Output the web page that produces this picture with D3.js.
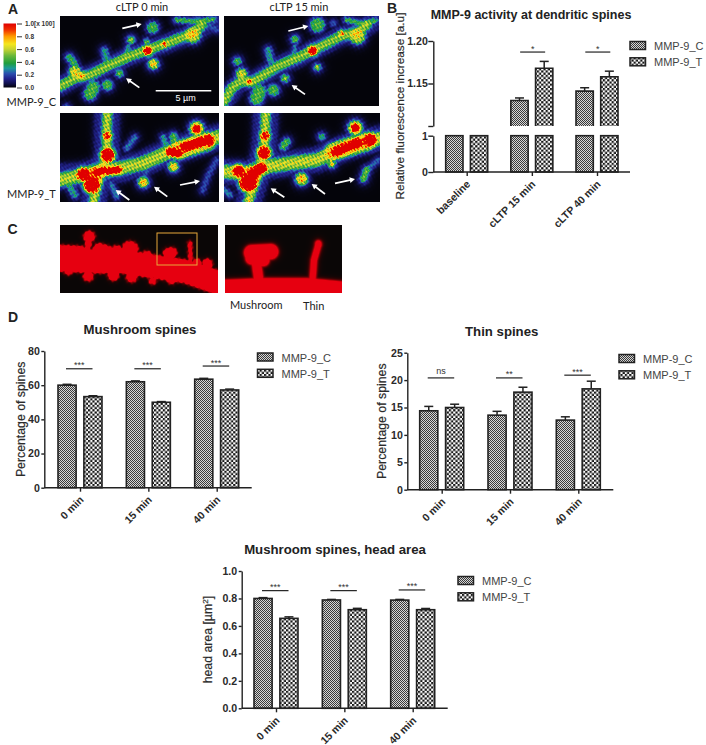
<!DOCTYPE html>
<html lang="en">
<head>
<meta charset="UTF-8">
<title>MMP-9 activity and dendritic spines</title>
<script src="https://d3js.org/d3.v7.min.js"></script>
<style>
  html, body { margin: 0; padding: 0; background: #fff; }
  svg { display: block; }
  text { font-family: "Liberation Sans", Arial, sans-serif; fill: #222; }
  .photo-label { font-family: Lato, "Open Sans", sans-serif; }
  .axis path, .axis line, .axis-line { stroke: #222; stroke-width: 1.4; fill: none; }
  .axis text { font-size: 10.6px; font-weight: 600; fill: #2a2a2a; }
  .title { font-weight: bold; text-anchor: middle; }
  .legend-text { font-size: 11px; fill: #444; }
</style>
</head>
<body>
<div id="chart"></div>
<script>
const seriesNames = ["MMP-9_C", "MMP-9_T"];
const timeLabels = ["0 min", "15 min", "40 min"];
const activityLabels = ["baseline", "cLTP 15 min", "cLTP 40 min"];

// bar height, then top of the error whisker
const activityC = [1, 1.13, 1.141];
const activityCTop = [1, 1.133, 1.145];
const activityT = [1, 1.168, 1.158];
const activityTTop = [1, 1.176, 1.1645];
const activitySig = [null, "*", "*"];
const activitySigY = [null, 1.187, 1.187];

const mushroomC = [60, 62, 63.5];
const mushroomCTop = [60.5, 62.5, 64];
const mushroomT = [53.3, 50, 57.2];
const mushroomTTop = [53.8, 50.4, 57.7];
const mushroomSig = ["***", "***", "***"];
const mushroomSigY = [69.6, 69.6, 71.2];

const thinC = [14.4, 13.6, 12.7];
const thinCTop = [15.2, 14.3, 13.3];
const thinT = [15, 17.8, 18.4];
const thinTTop = [15.6, 18.7, 19.8];
const thinSig = ["ns", "**", "***"];
const thinSigY = [20.4, 20.4, 20.9];

const headC = [0.8, 0.789, 0.788];
const headCTop = [0.806, 0.793, 0.793];
const headT = [0.655, 0.718, 0.718];
const headTTop = [0.666, 0.728, 0.727];
const headSig = ["***", "***", "***"];
const headSigY = [0.857, 0.857, 0.862];

const heatStops = [0, 0.06, 0.14, 0.22, 0.3, 0.38, 0.5, 0.6, 0.68, 0.8, 0.9, 1];
const heatColors = ["#04040a", "#10104a", "#22228c", "#2a50b0", "#1c9a9a", "#1e9e3c",
  "#6cb83a", "#c8d430", "#f5e61e", "#ff9a00", "#f03000", "#e00000"];
const colorbarTicks = [0, 0.2, 0.4, 0.6, 0.8, 1];

// image shapes: [radius, level, x1, y1, x2, y2, ...]; points are 3x reference coordinates
const photoC0 = [
  [9, 0.13, 181,258, 225,235, 270,225, 330,195, 385,170, 440,150, 500,130, 580,100, 657,55],
  [4.2, 0.53, 181,258, 225,235, 270,225, 330,195, 385,170, 440,150, 500,130, 580,100, 605,75],
  [3.4, 1.3, 443,152], [2, 0.9, 493,132], [7, 0.64, 578,105], [5, 0.68, 225,215], [3, 0.7, 245,228],
  [2, 0.42, 530,60, 590,65, 640,58], [2.5, 0.2, 590,55, 650,90],
  [5, 0.44, 458,83], [2.8, 0.55, 393,120], [1.8, 0.5, 440,125], [4, 0.72, 460,192],
  [3, 0.4, 208,172, 222,190], [3, 0.32, 313,152, 320,180], [5.5, 0.46, 270,282, 280,262],
  [4.5, 0.46, 322,255], [3, 0.46, 358,220], [1.8, 0.32, 385,140, 375,170], [1.8, 0.38, 200,322]
];
const photoC15 = [
  [9, 0.13, 672,305, 720,245, 760,245, 830,200, 900,170, 940,150, 1020,110, 1075,95, 1136,55],
  [4.2, 0.53, 672,305, 695,265, 720,245, 760,245, 830,200, 900,170, 940,150, 1020,110, 1075,95, 1100,75],
  [3.6, 1.3, 938,152], [2.2, 0.8, 1025,100], [7, 0.64, 1072,108], [2.2, 1, 748,245], [4.5, 0.64, 725,222],
  [2, 0.42, 1040,60, 1090,72, 1125,62], [6.5, 0.46, 952,75], [3, 0.48, 885,118], [2.2, 0.6, 952,202],
  [3.4, 0.42, 712,184], [3, 0.32, 805,150, 812,180], [6, 0.46, 770,295, 778,275], [5, 0.46, 820,270],
  [3, 0.52, 855,235], [3, 0.22, 1000,70], [1.8, 0.27, 885,140, 880,170]
];
const photoT0 = [
  [12, 0.15, 322,338, 320,400, 322,465, 300,520, 280,606],
  [12, 0.15, 180,530, 250,525, 300,510, 360,510, 430,490, 520,450, 600,425, 657,410],
  [4, 0.58, 322,338, 320,400, 322,465, 300,520, 280,606],
  [6, 0.58, 180,540, 250,525, 300,510, 360,505, 430,490, 520,450, 600,425, 657,410],
  [6, 1.35, 323,465], [3.5, 1, 322,408], [5.5, 1.35, 250,523], [3, 1.3, 290,515, 355,510], [7, 1.35, 275,555],
  [9, 0.76, 280,530], [3.5, 1.3, 510,455, 535,460], [4, 1.3, 555,440, 605,425], [5, 1.35, 625,422],
  [8, 0.7, 540,450, 620,425], [6, 0.7, 590,385], [3.5, 1.35, 590,387], [4, 0.76, 430,547], [4, 0.72, 520,500],
  [2.4, 0.26, 380,445, 405,412], [2.4, 0.32, 490,412, 495,430], [3, 0.44, 520,408, 525,430],
  [2.4, 0.2, 650,480, 625,525, 608,572], [2, 0.2, 440,515, 430,540], [2.4, 0.27, 335,555, 350,590],
  [3, 0.32, 225,585, 210,560]
];
const photoT15 = [
  [12, 0.15, 797,338, 795,410, 790,460, 770,530, 745,606],
  [12, 0.15, 672,515, 740,520, 800,500, 870,490, 950,480, 1040,440, 1140,415],
  [4, 0.58, 797,338, 795,410, 790,460, 770,530, 745,606],
  [6, 0.6, 672,515, 740,520, 800,500, 870,490, 950,480, 1040,440, 1140,415],
  [5.5, 1.35, 792,458], [4, 1.05, 795,408], [5, 1.35, 715,513], [4.5, 1.3, 760,520, 785,505], [8, 1.35, 745,548],
  [10, 0.76, 750,530], [4, 1.3, 1010,455, 1075,428], [5.5, 1.35, 1110,420], [8, 0.7, 1000,455, 1100,425],
  [6, 0.7, 1066,383], [3.6, 1.35, 1066,384], [5, 0.76, 905,537], [2.5, 0.7, 995,492],
  [2.6, 0.48, 1100,510, 1090,537], [2.4, 0.24, 1135,480, 1105,505], [3, 0.37, 965,410], [3, 0.44, 860,425, 850,440],
  [2.4, 0.27, 1040,420, 1035,440], [2.4, 0.27, 672,570, 690,585], [2, 0.55, 745,600]
];
const photoSpine = [
  [11, 1, 181,150, 300,155, 370,155, 450,168, 560,185, 654,218],
  [6, 1, 181,125, 240,128], [5, 1, 268,80], [2.4, 1, 268,80, 262,120], [5.5, 1, 298,118, 320,125],
  [7.5, 1, 390,118], [5.5, 1, 350,125], [5, 1, 440,140], [4.5, 1, 515,128, 505,130], [2, 1, 515,128, 515,165],
  [1.3, 1, 570,100, 572,165], [4.5, 1, 265,198], [5, 1, 340,195], [5, 1, 395,200], [4, 1, 515,208],
  [3, 1, 458,212], [4.5, 1, 622,162], [4, 1, 590,160], [3.5, 1, 205,182]
];
const photoZoom = [
  [9.5, 1, 675,240, 790,235, 920,235, 1025,245], [7, 1, 755,128, 812,125], [4, 1, 768,150, 775,200],
  [5.5, 1, 755,145, 790,150], [2.4, 1, 955,105, 942,150, 938,205], [2.2, 1, 955,100]
];

// arrows in the same 3x reference coordinates: x1, y1, x2, y2
const photoArrows = [
  [367,85,425,72], [418,263,378,235], [865,93,925,78], [915,283,875,255],
  [388,600,347,570], [502,590,462,560], [540,555,600,543],
  [853,592,812,565], [975,582,935,552], [1005,550,1065,537]
];

const svg = d3.select("#chart").append("svg")
  .attr("width", 706).attr("height", 745)
  .attr("viewBox", [0, 0, 706, 745]);

const defs = svg.append("defs");

const finePattern = defs.append("pattern").attr("id", "fine")
  .attr("width", 2).attr("height", 2).attr("patternUnits", "userSpaceOnUse");
finePattern.append("rect").attr("width", 2).attr("height", 2).attr("fill", "#d6d6d6");
finePattern.append("rect").attr("width", 1).attr("height", 1).attr("fill", "#3a3a3a");
finePattern.append("rect").attr("x", 1).attr("y", 1).attr("width", 1).attr("height", 1).attr("fill", "#3a3a3a");

const checkPattern = defs.append("pattern").attr("id", "check")
  .attr("width", 4.4).attr("height", 4.4).attr("patternUnits", "userSpaceOnUse");
checkPattern.append("rect").attr("width", 4.4).attr("height", 4.4).attr("fill", "#fff");
checkPattern.append("rect").attr("width", 2.2).attr("height", 2.2).attr("fill", "#161616");
checkPattern.append("rect").attr("x", 2.2).attr("y", 2.2).attr("width", 2.2).attr("height", 2.2).attr("fill", "#161616");

const patternOf = { "MMP-9_C": "url(#fine)", "MMP-9_T": "url(#check)" };

const heatColor = d3.scaleLinear().domain(heatStops).range(heatColors).clamp(true);
const redColor = d3.scaleLinear().domain([0, 0.1, 0.42, 0.66]).range(["#0a0606", "#2a0404", "#b80008", "#e60010"]).clamp(true);

function segDist(px, py, ax, ay, bx, by) {
  const dx = bx - ax, dy = by - ay;
  const len = dx * dx + dy * dy;
  const t = len ? Math.max(0, Math.min(1, ((px - ax) * dx + (py - ay) * dy) / len)) : 0;
  return Math.hypot(px - ax - t * dx, py - ay - t * dy);
}

// paints the shapes to a small canvas and puts the result in the svg as an image
function drawPhoto(x, y, w, h, shapes, colorFn, o) {
  const canvas = document.createElement("canvas");
  canvas.width = w; canvas.height = h;
  const ctx = canvas.getContext("2d");
  const img = ctx.createImageData(w, h);
  const shift = o.yShift || 0;
  for (let j = 0; j < h; j++) {
    for (let i = 0; i < w; i++) {
      const px = x + i + 0.5, py = y + j + 0.5 - shift;
      // rough edges
      const wob = o.wobble * (Math.sin(px * 0.83 + py * 1.21) + Math.sin(px * 1.37 - py * 0.61 + 1.3));
      let sum = 0;
      shapes.forEach(s => {
        let d = Infinity;
        if (s.length === 4) d = Math.hypot(px - s[2] / 3, py - s[3] / 3);
        for (let k = 2; k + 3 < s.length; k += 2) {
          d = Math.min(d, segDist(px, py, s[k] / 3, s[k + 1] / 3, s[k + 2] / 3, s[k + 3] / 3));
        }
        d = Math.max(0, d + wob);
        const q = d / s[0];
        const g = d < s[0] ? s[1] * (1 - 0.3 * q * q) : s[1] * 0.7 * Math.exp(-(d - s[0]) / o.soft);
        sum += g * g * g;
      });
      let v = Math.cbrt(sum);
      if (o.grain) {
        v *= 1 + o.grain * (Math.sin(px * 1.1 + py * 0.5) * Math.sin(px * 0.5 - py * 1.0)
          + 0.5 * Math.sin(px * 1.9 - py * 1.6 + 0.7));
      }
      const c = d3.rgb(colorFn(v));
      const p = (j * w + i) * 4;
      img.data[p] = c.r; img.data[p + 1] = c.g; img.data[p + 2] = c.b; img.data[p + 3] = 255;
    }
  }
  ctx.putImageData(img, 0, 0);
  svg.append("image").attr("x", x).attr("y", y).attr("width", w).attr("height", h)
    .attr("href", canvas.toDataURL()).style("filter", "blur(0.4px)");
}

const heatLook = { soft: 2.4, grain: 0.2, wobble: 0.35 };
drawPhoto(60, 16, 159, 90, photoC0, heatColor, heatLook);
drawPhoto(224, 16, 155, 90, photoC15, heatColor, heatLook);
drawPhoto(60, 113, 159, 89, photoT0, heatColor, heatLook);
drawPhoto(224, 113, 156, 89, photoT15, heatColor, heatLook);
drawPhoto(60, 225, 158, 68, photoSpine, redColor, { soft: 1.2, grain: 0, wobble: 0.3, yShift: 210 });
drawPhoto(225, 225, 117, 68, photoZoom, redColor, { soft: 1.6, grain: 0, wobble: 0, yShift: 210 });

// highlighted region in panel C
svg.append("rect").attr("x", 157).attr("y", 233).attr("width", 40).attr("height", 32)
  .attr("fill", "none").attr("stroke", "#e8a83a").attr("stroke-width", 1);

// arrows
photoArrows.forEach(a => {
  const [x1, y1, x2, y2] = a.map(v => v / 3);
  const ang = Math.atan2(y2 - y1, x2 - x1);
  const head = d3.path();
  head.moveTo(x2, y2);
  head.lineTo(x2 - 6 * Math.cos(ang - 0.5), y2 - 6 * Math.sin(ang - 0.5));
  head.lineTo(x2 - 6 * Math.cos(ang + 0.5), y2 - 6 * Math.sin(ang + 0.5));
  head.closePath();
  svg.append("line").attr("x1", x1).attr("y1", y1).attr("x2", x2 - 3 * Math.cos(ang)).attr("y2", y2 - 3 * Math.sin(ang))
    .attr("stroke", "#fff").attr("stroke-width", 1.7);
  svg.append("path").attr("d", head.toString()).attr("fill", "#fff");
});

// scale bar
svg.append("line").attr("x1", 155.7).attr("x2", 211.3).attr("y1", 90.7).attr("y2", 90.7)
  .attr("stroke", "#fff").attr("stroke-width", 1.4);
svg.append("text").attr("x", 185.7).attr("y", 101).attr("text-anchor", "middle")
  .style("fill", "#fff").attr("font-size", 9).text("5 µm");

// colorbar
const barGrad = defs.append("linearGradient").attr("id", "heat")
  .attr("x1", 0).attr("x2", 0).attr("y1", 1).attr("y2", 0);
barGrad.selectAll("stop").data(heatStops).join("stop")
  .attr("offset", d => d).attr("stop-color", d => heatColor(d));
const barScale = d3.scaleLinear().domain([0, 1]).range([87.5, 23.5]);
svg.append("rect").attr("x", 3.5).attr("y", barScale(1)).attr("width", 12.5)
  .attr("height", barScale(0) - barScale(1)).attr("fill", "url(#heat)");
const barAxis = svg.append("g").attr("transform", "translate(22,0)")
  .call(d3.axisLeft(barScale).tickValues(colorbarTicks).tickSize(5).tickFormat(""));
barAxis.select(".domain").remove();
barAxis.selectAll("line").attr("stroke", "#333");
svg.selectAll(".cb").data(colorbarTicks).join("text").attr("class", "cb")
  .attr("x", 25).attr("y", d => barScale(d) + 2.6)
  .attr("font-size", 6.5).attr("font-weight", "bold").style("fill", "#333")
  .text(d => d === 1 ? "1.0[x 100]" : d.toFixed(1));

function label(x, y, text, size, cls, anchor) {
  return svg.append("text").attr("x", x).attr("y", y).attr("font-size", size)
    .attr("class", cls || null).attr("text-anchor", anchor || "start").text(text);
}

label(8, 13.5, "A", 14).attr("font-weight", "bold");
label(387, 13, "B", 14).attr("font-weight", "bold");
label(7.5, 234, "C", 14).attr("font-weight", "bold");
label(8, 322, "D", 14).attr("font-weight", "bold");
label(142, 11, "cLTP 0 min", 11, "photo-label", "middle");
label(299, 11, "cLTP 15 min", 11, "photo-label", "middle");
label(6.5, 105.5, "MMP-9_C", 11, "photo-label");
label(7, 198, "MMP-9_T", 11, "photo-label");
label(230, 309, "Mushroom", 11, "photo-label");
label(303, 310, "Thin", 11, "photo-label");

function addLegend(x, y) {
  seriesNames.forEach((name, i) => {
    const top = y + i * 16.3;
    svg.append("rect").attr("x", x).attr("y", top).attr("width", 15.5).attr("height", 8)
      .attr("fill", patternOf[name]).attr("stroke", "#222").attr("stroke-width", 1.5);
    svg.append("text").attr("class", "legend-text").attr("x", x + 24).attr("y", top + 8.5).text(name);
  });
}

function addXAxis(x, baseline, axisX, axisEnd) {
  const g = svg.append("g").attr("class", "axis").attr("transform", `translate(0,${baseline})`)
    .call(d3.axisBottom(x).tickSize(4).tickSizeOuter(0));
  g.select(".domain").remove();
  g.selectAll("text").attr("text-anchor", "end")
    .attr("transform", "rotate(-45)").attr("dx", "-0.6em").attr("dy", "0.45em");
  svg.append("line").attr("class", "axis-line")
    .attr("x1", axisX).attr("x2", axisEnd).attr("y1", baseline).attr("y2", baseline);
}

function addSig(x, y, sig, sigY, left, right) {
  x.domain().forEach((cat, i) => {
    if (!sig[i]) return;
    const yy = y(sigY[i]);
    svg.append("line").attr("x1", x(cat) + left).attr("x2", x(cat) + right)
      .attr("y1", yy).attr("y2", yy).attr("stroke", "#222").attr("stroke-width", 1.2);
    svg.append("text").attr("x", x(cat) + (left + right) / 2).attr("y", sig[i] === "ns" ? yy - 4 : yy - 0.5)
      .attr("text-anchor", "middle").attr("font-size", 9).style("fill", "#333").text(sig[i]);
  });
}

function drawBars(c) {
  const x = d3.scalePoint().domain(c.cats).range([c.tick0, c.tickN]);
  const offset = d3.scaleBand().domain(seriesNames).range([-22, 22]).paddingInner(0.3);
  const y = d3.scaleLinear().domain(c.domain).range([c.y0, c.yMax]);
  const rows = [[c.c, c.cTop, seriesNames[0]], [c.t, c.tTop, seriesNames[1]]];

  rows.forEach(([vals, tops, name]) => {
    const g = svg.append("g");
    g.selectAll("line").data(c.cats).join("line")
      .attr("x1", d => x(d) + offset(name) + offset.bandwidth() / 2)
      .attr("x2", d => x(d) + offset(name) + offset.bandwidth() / 2)
      .attr("y1", (d, i) => y(vals[i])).attr("y2", (d, i) => y(tops[i]))
      .attr("stroke", "#222").attr("stroke-width", 1.5);
    g.selectAll(".cap").data(c.cats).join("line").attr("class", "cap")
      .attr("x1", d => x(d) + offset(name) + offset.bandwidth() / 2 - 4.5)
      .attr("x2", d => x(d) + offset(name) + offset.bandwidth() / 2 + 4.5)
      .attr("y1", (d, i) => y(tops[i])).attr("y2", (d, i) => y(tops[i]))
      .attr("stroke", "#222").attr("stroke-width", 1.5);
    g.selectAll("rect").data(c.cats).join("rect")
      .attr("x", d => x(d) + offset(name)).attr("width", offset.bandwidth())
      .attr("y", (d, i) => y(vals[i])).attr("height", (d, i) => c.y0 - y(vals[i]))
      .attr("fill", patternOf[name]).attr("stroke", "#222").attr("stroke-width", 1.6);
  });

  svg.append("g").attr("class", "axis").attr("transform", `translate(${c.axisX},0)`)
    .call(d3.axisLeft(y).tickValues(c.ticks).tickSize(3).tickPadding(1.5).tickSizeOuter(0).tickFormat(c.format));
  addXAxis(x, c.y0, c.axisX, c.axisEnd);
  addSig(x, y, c.sig, c.sigY, -14, 12.5);
  label(c.titleX, c.titleY, c.title, 13.2, "title");
  svg.append("text").attr("transform", `translate(${c.labelX},${(c.y0 + c.yMax) / 2}) rotate(-90)`)
    .attr("text-anchor", "middle").attr("font-size", 12.3).style("fill", "#2a2a2a")
    .style("stroke", "#2a2a2a").style("stroke-width", 0.2).html(c.yLabel);
  addLegend(c.legendX, c.legendY);
}

drawBars({
  cats: timeLabels, tick0: 80, tickN: 216.7, domain: [0, 80], y0: 487.7, yMax: 351,
  c: mushroomC, cTop: mushroomCTop, t: mushroomT, tTop: mushroomTTop,
  sig: mushroomSig, sigY: mushroomSigY, ticks: [0, 20, 40, 60, 80], format: d3.format("d"),
  axisX: 44.3, axisEnd: 251.7, title: "Mushroom spines", titleX: 140, titleY: 334,
  labelX: 25, yLabel: "Percentage of spines", legendX: 257.5, legendY: 353
});

drawBars({
  cats: timeLabels, tick0: 441.7, tickN: 578.3, domain: [0, 25], y0: 489.7, yMax: 352.7,
  c: thinC, cTop: thinCTop, t: thinT, tTop: thinTTop,
  sig: thinSig, sigY: thinSigY, ticks: [0, 5, 10, 15, 20, 25], format: d3.format("d"),
  axisX: 407.3, axisEnd: 613.3, title: "Thin spines", titleX: 501.7, titleY: 336,
  labelX: 385.5, yLabel: "Percentage of spines", legendX: 619, legendY: 354.5
});

drawBars({
  cats: timeLabels, tick0: 276, tickN: 412.7, domain: [0, 1], y0: 708.3, yMax: 571,
  c: headC, cTop: headCTop, t: headT, tTop: headTTop,
  sig: headSig, sigY: headSigY, ticks: [0, 0.2, 0.4, 0.6, 0.8, 1], format: d3.format(".1f"),
  axisX: 241.7, axisEnd: 447.7, title: "Mushroom spines, head area", titleX: 335, titleY: 554,
  labelX: 212, yLabel: 'head area [µm<tspan dy="-4" font-size="8">2</tspan><tspan dy="4">]</tspan>',
  legendX: 458, legendY: 576.5
});

// panel B has a broken y axis: 0 to 1 below the gap, 1.10 to 1.20 above it
const activityX = d3.scalePoint().domain(activityLabels).range([466.7, 597]);
const activityOffset = d3.scaleBand().domain(seriesNames).range([-21, 21]).paddingInner(0.3);
const lowY = d3.scaleLinear().domain([0, 1]).range([172, 135.7]);
const highY = d3.scaleLinear().domain([1.1, 1.2]).range([126, 41]);
const activityRows = [[activityC, activityCTop, seriesNames[0]], [activityT, activityTTop, seriesNames[1]]];

activityRows.forEach(([vals, tops, name]) => {
  const g = svg.append("g");
  const cx = d => activityX(d) + activityOffset(name) + activityOffset.bandwidth() / 2;
  g.selectAll(".low").data(activityLabels).join("rect").attr("class", "low")
    .attr("x", d => activityX(d) + activityOffset(name)).attr("width", activityOffset.bandwidth())
    .attr("y", lowY(1)).attr("height", lowY(0) - lowY(1))
    .attr("fill", patternOf[name]).attr("stroke", "#222").attr("stroke-width", 1.6);
  const upper = activityLabels.filter((d, i) => vals[i] > 1.1);
  const valueOf = d => vals[activityLabels.indexOf(d)];
  const topOf = d => tops[activityLabels.indexOf(d)];
  g.selectAll(".whisker").data(upper).join("line").attr("class", "whisker")
    .attr("x1", cx).attr("x2", cx).attr("y1", d => highY(valueOf(d))).attr("y2", d => highY(topOf(d)))
    .attr("stroke", "#222").attr("stroke-width", 1.5);
  g.selectAll(".cap").data(upper).join("line").attr("class", "cap")
    .attr("x1", d => cx(d) - 4.5).attr("x2", d => cx(d) + 4.5)
    .attr("y1", d => highY(topOf(d))).attr("y2", d => highY(topOf(d)))
    .attr("stroke", "#222").attr("stroke-width", 1.5);
  g.selectAll(".high").data(upper).join("rect").attr("class", "high")
    .attr("x", d => activityX(d) + activityOffset(name)).attr("width", activityOffset.bandwidth())
    .attr("y", d => highY(valueOf(d))).attr("height", d => highY(1.1) - highY(valueOf(d)))
    .attr("fill", patternOf[name]);
  g.selectAll(".edge").data(upper).join("path").attr("class", "edge")
    .attr("fill", "none").attr("stroke", "#222").attr("stroke-width", 1.6)
    .attr("d", d => {
      const x0 = activityX(d) + activityOffset(name), x1 = x0 + activityOffset.bandwidth();
      return d3.line()([[x0, highY(1.1)], [x0, highY(valueOf(d))], [x1, highY(valueOf(d))], [x1, highY(1.1)]]);
    });
});

svg.append("g").attr("class", "axis").attr("transform", "translate(433.3,0)")
  .call(d3.axisLeft(lowY).tickValues([0, 1]).tickSize(5).tickPadding(0.5).tickSizeOuter(0).tickFormat(d3.format("d")));
svg.append("g").attr("class", "axis").attr("transform", "translate(433.3,0)")
  .call(d3.axisLeft(highY).tickValues([1.1, 1.15, 1.2]).tickSize(5).tickPadding(0.5).tickSizeOuter(0)
    .tickFormat(d => d === 1.1 ? "" : d3.format(".2f")(d)));
addXAxis(activityX, 172, 433.3, 630);
addSig(activityX, highY, activitySig, activitySigY, -11.7, 13.3);
label(531, 18.7, "MMP-9 activity at dendritic spines", 12.5, "title");
svg.append("text").attr("transform", "translate(404,106) rotate(-90)")
  .attr("text-anchor", "middle").attr("font-size", 11.8).style("fill", "#2a2a2a")
  .style("stroke", "#2a2a2a").style("stroke-width", 0.2)
  .text("Relative fluorescence increase [a.u]");
addLegend(630, 41.5);
</script>
</body>
</html>
